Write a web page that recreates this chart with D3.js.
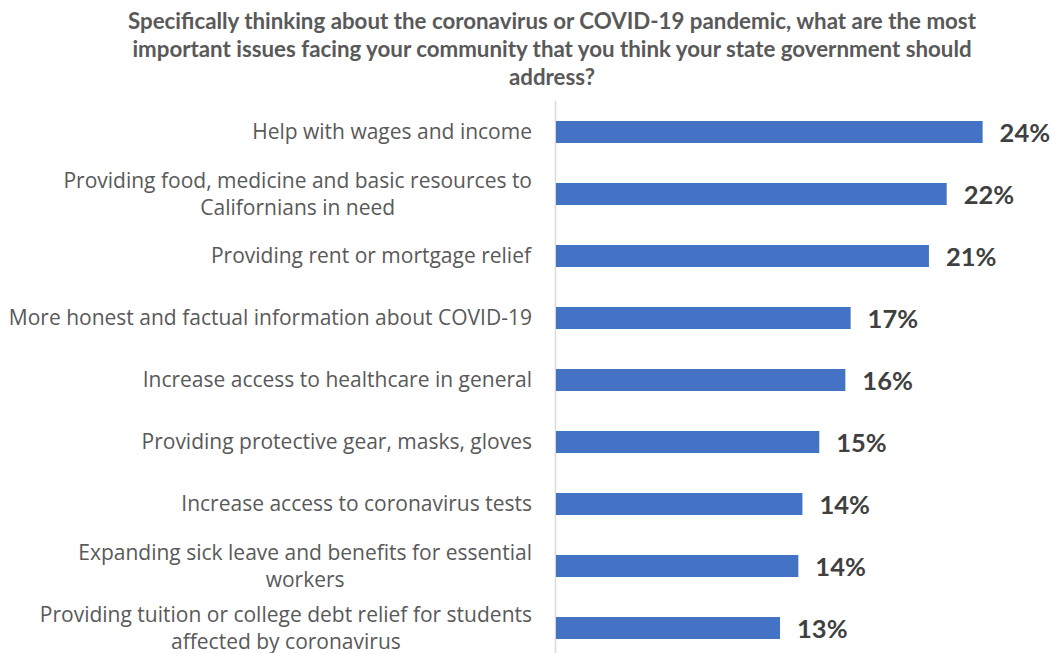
<!DOCTYPE html>
<html>
<head>
<meta charset="utf-8">
<script src="https://cdn.jsdelivr.net/npm/d3@7"></script>
<style>
  html, body { margin: 0; padding: 0; background: #ffffff; }
  svg { display: block; }
</style>
</head>
<body>
<svg id="chart" width="1052" height="653"></svg>
<script>
// Survey responses: most important COVID-19 issues for state government
const titleLines = [
  "Specifically thinking about the coronavirus or COVID-19 pandemic, what are the most",
  "important issues facing your community that you think your state government should",
  "address?"
];

const categories = [
  ["Help with wages and income"],
  ["Providing food, medicine and basic resources to", "Californians in need"],
  ["Providing rent or mortgage relief"],
  ["More honest and factual information about COVID-19"],
  ["Increase access to healthcare in general"],
  ["Providing protective gear, masks, gloves"],
  ["Increase access to coronavirus tests"],
  ["Expanding sick leave and benefits for essential", "workers"],
  ["Providing tuition or college debt relief for students", "affected by coronavirus"]
];

// Share of respondents (percent)
const values = [24.24, 22.2, 21.19, 16.74, 16.44, 14.96, 14.0, 13.77, 12.73];

const svg = d3.select("#chart");

const keys = categories.map(c => c.join(" "));

const x = d3.scaleLinear().domain([0, 30]).range([556, 1084]);
const y = d3.scaleBand()
  .domain(keys)
  .range([101, 659])
  .paddingInner(0.645)
  .paddingOuter(0.3225);

// Title
svg.append("g")
  .selectAll("text")
  .data(titleLines)
  .join("text")
  .attr("x", 552)
  .attr("y", (d, i) => 29 + i * 28)
  .attr("text-anchor", "middle")
  .attr("font-family", "Lato, sans-serif")
  .attr("font-weight", "bold")
  .attr("font-size", 22.3)
  .attr("fill", "#595959")
  .text(d => d);

// Category axis line
svg.append("line")
  .attr("x1", x(0) - 0.5)
  .attr("x2", x(0) - 0.5)
  .attr("y1", y.range()[0])
  .attr("y2", y.range()[1])
  .attr("stroke", "#d9d9d9")
  .attr("stroke-width", 1.5);

// Bars
svg.append("g")
  .selectAll("rect")
  .data(values)
  .join("rect")
  .attr("x", x(0))
  .attr("y", (d, i) => y(keys[i]))
  .attr("width", d => x(d) - x(0))
  .attr("height", y.bandwidth())
  .attr("fill", "#4472c4");

// Value labels
svg.append("g")
  .selectAll("text")
  .data(values)
  .join("text")
  .attr("x", d => x(d) + 17)
  .attr("y", (d, i) => y(keys[i]) + y.bandwidth() / 2 + 9.5)
  .attr("font-family", "Lato, sans-serif")
  .attr("font-weight", "bold")
  .attr("font-size", 25.5)
  .attr("fill", "#404040")
  .text(d => Math.round(d) + "%");

// Category labels (wrapped lines, vertically centred on each bar)
const lineGap = 27;
const catG = svg.append("g");
categories.forEach((lines, i) => {
  const cy = y(keys[i]) + y.bandwidth() / 2;
  const first = cy + 7 - (lines.length - 1) * lineGap / 2;
  const t = catG.append("text")
    .attr("text-anchor", "middle")
    .attr("font-family", "'Open Sans', sans-serif")
    .attr("font-size", 21)
    .attr("fill", "#595959");
  lines.forEach((ln, j) => {
    t.append("tspan")
      .attr("x", 0)
      .attr("y", first + j * lineGap)
      .text(ln);
  });
  // right-align the block at the axis while centring its lines on each other
  const w = t.node().getBBox().width;
  t.selectAll("tspan").attr("x", 532 - w / 2);
});
</script>
</body>
</html>
